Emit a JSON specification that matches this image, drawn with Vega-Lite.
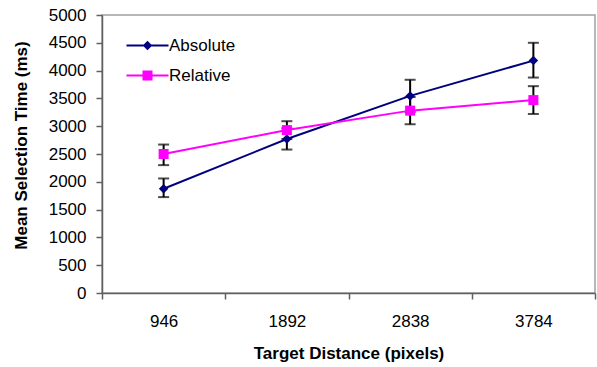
{
  "$schema": "https://vega.github.io/schema/vega-lite/v6.json",
  "width": 493,
  "height": 278,
  "autosize": {"type": "none"},
  "padding": {"left": 102, "top": 15, "right": 2, "bottom": 74},
  "background": "white",
  "config": {
    "font": "Liberation Sans",
    "view": {"stroke": "#a0a0a0", "strokeWidth": 1.5},
    "axis": {"grid": false, "domainColor": "#606060", "tickColor": "#606060", "domainWidth": 1.5, "tickWidth": 1.5, "labelColor": "black", "titleColor": "black", "labelFont": "Liberation Sans", "titleFont": "Liberation Sans"}
  },
  "data": {
    "values": [
      {"dist": "946", "series": "Absolute", "mean": 1875, "lo": 1725, "hi": 2060},
      {"dist": "1892", "series": "Absolute", "mean": 2770, "lo": 2580, "hi": 2960},
      {"dist": "2838", "series": "Absolute", "mean": 3545, "lo": 3255, "hi": 3835},
      {"dist": "3784", "series": "Absolute", "mean": 4180, "lo": 3875, "hi": 4500},
      {"dist": "946", "series": "Relative", "mean": 2500, "lo": 2300, "hi": 2670},
      {"dist": "1892", "series": "Relative", "mean": 2930, "lo": 2770, "hi": 3090},
      {"dist": "2838", "series": "Relative", "mean": 3280, "lo": 3035, "hi": 3525},
      {"dist": "3784", "series": "Relative", "mean": 3470, "lo": 3220, "hi": 3720}
    ]
  },
  "encoding": {
    "x": {
      "field": "dist",
      "type": "ordinal",
      "sort": ["946", "1892", "2838", "3784"],
      "bandPosition": 0.5,
      "scale": {"type": "band", "paddingInner": 0, "paddingOuter": 0},
      "axis": {
        "title": "Target Distance (pixels)",
        "titleFontSize": 17,
        "titleFontWeight": "bold",
        "labelFontSize": 17,
        "labelAngle": 0,
        "tickBand": "extent",
        "tickSize": 6,
        "labelPadding": 14,
        "titlePadding": 16
      }
    },
    "y": {
      "field": "mean",
      "type": "quantitative",
      "scale": {"domain": [0, 5000], "nice": false},
      "axis": {
        "title": "Mean Selection Time (ms)",
        "titleFontSize": 17,
        "titleFontWeight": "bold",
        "labelFontSize": 17,
        "format": "d",
        "values": [0, 500, 1000, 1500, 2000, 2500, 3000, 3500, 4000, 4500, 5000],
        "tickSize": 6,
        "labelPadding": 10,
        "titleX": -72,
        "titleY": 130
      }
    }
  },
  "layer": [
    {
      "mark": {"type": "rule", "color": "black", "strokeWidth": 2},
      "encoding": {
        "y": {"field": "lo", "type": "quantitative"},
        "y2": {"field": "hi"}
      }
    },
    {
      "mark": {"type": "tick", "color": "black", "size": 11, "thickness": 2},
      "encoding": {"y": {"field": "lo", "type": "quantitative"}}
    },
    {
      "mark": {"type": "tick", "color": "black", "size": 11, "thickness": 2},
      "encoding": {"y": {"field": "hi", "type": "quantitative"}}
    },
    {
      "transform": [{"filter": "datum.series === 'Absolute'"}],
      "mark": {"type": "line", "strokeWidth": 2, "color": "#000080"},
      "encoding": {}
    },
    {
      "transform": [{"filter": "datum.series === 'Relative'"}],
      "mark": {"type": "line", "strokeWidth": 2, "color": "#ff00ff"},
      "encoding": {}
    },
    {
      "transform": [{"filter": "datum.series === 'Absolute'"}],
      "mark": {"type": "point", "shape": "diamond", "filled": true, "color": "#000080", "size": 90, "opacity": 1},
      "encoding": {}
    },
    {
      "transform": [{"filter": "datum.series === 'Relative'"}],
      "mark": {"type": "point", "shape": "square", "filled": true, "color": "#ff00ff", "size": 100, "opacity": 1},
      "encoding": {}
    },
    {
      "transform": [{"filter": "datum.series === 'none'"}],
      "mark": {"type": "point", "filled": true, "size": 100, "opacity": 1},
      "encoding": {
        "color": {
          "field": "series",
          "type": "nominal",
          "scale": {"domain": ["Absolute", "Relative"], "range": ["#000080", "#ff00ff"]},
          "legend": {
            "title": null,
            "orient": "none",
            "legendX": 37,
            "legendY": 22,
            "padding": 0,
            "symbolSize": 100,
            "symbolOpacity": 1,
            "symbolStrokeWidth": 0,
            "labelFontSize": 17,
            "labelOffset": 13,
            "rowPadding": 12,
            "labelColor": "black"
          }
        },
        "shape": {
          "field": "series",
          "type": "nominal",
          "scale": {
            "domain": ["Absolute", "Relative"],
            "range": [
              "M-4.2,-0.2H4.2V0.2H-4.2ZM0,-0.95L0.95,0L0,0.95L-0.95,0Z",
              "M-4.2,-0.2H4.2V0.2H-4.2ZM-1,-1H1V1H-1Z"
            ]
          }
        }
      }
    }
  ]
}
